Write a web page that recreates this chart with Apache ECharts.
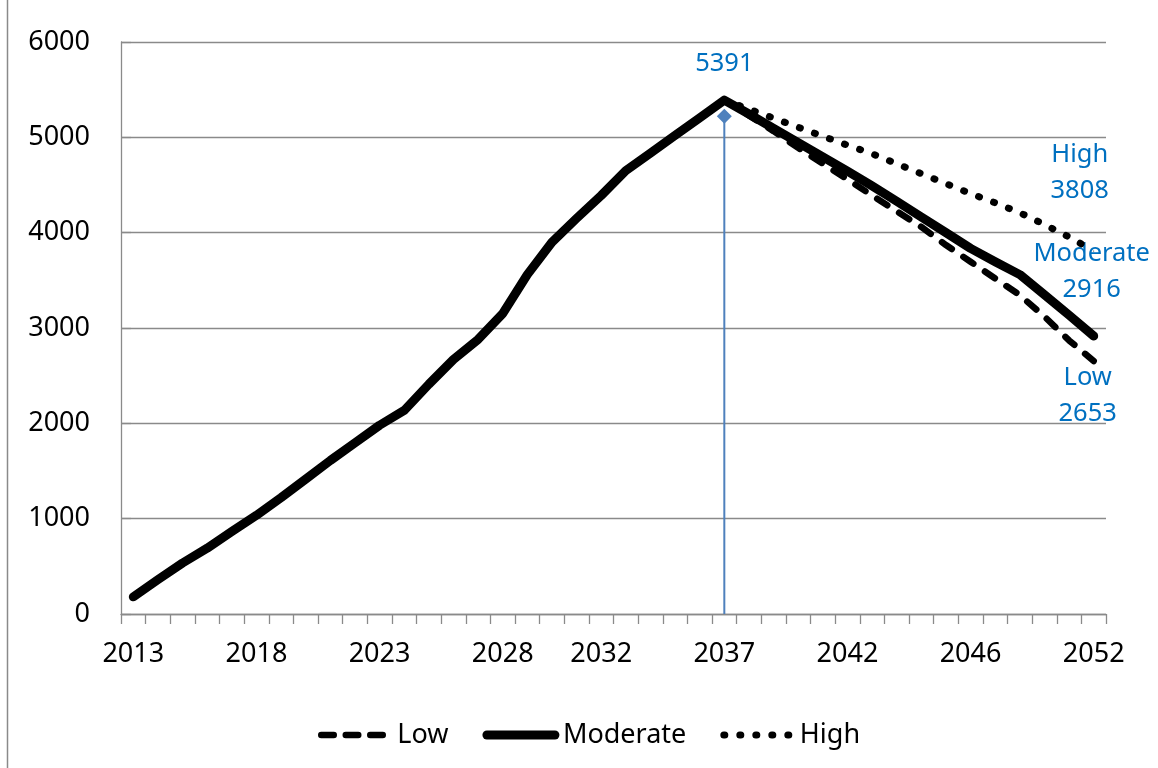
<!DOCTYPE html>
<html>
<head>
<meta charset="utf-8">
<title>Projection 2013–2052</title>
<script src="https://cdn.jsdelivr.net/npm/echarts@6/dist/echarts.min.js"></script>
<style>
  html, body { margin: 0; padding: 0; background: #ffffff; }
  #chart { width: 1158px; height: 768px; }
</style>
</head>
<body>
<div id="chart"></div>
<script>
// Category axis: one slot per year
const years = [
  '2013','2014','2015','2016','2017','2018','2019','2020','2021','2022',
  '2023','2024','2025','2026','2027','2028','2029','2030','2031','2032',
  '2033','2034','2035','2036','2037','2038','2039','2040','2041','2042',
  '2043','2044','2045','2046','2047','2048','2049','2050','2051','2052'
];

// Labels printed under the axis and the slot each one sits on
const xTickLabels = ['2013', '2018', '2023', '2028', '2032', '2037', '2042', '2046', '2052'];
const xTickSlots  = [0, 5, 10, 15, 19, 24, 29, 34, 39];

// Moderate scenario, whole period
const moderate = [
  180, 360, 535, 690, 865, 1035, 1220, 1415, 1610, 1795,
  1980, 2135, 2410, 2670, 2880, 3150, 3560, 3900, 4150, 4390,
  4650, 4835, 5020, 5205, 5391, 5245, 5095, 4945, 4795, 4645,
  4490, 4330, 4165, 4000, 3835, 3695, 3560, 3350, 3135, 2916
];

// Low and High scenarios branch off at the peak year
const projYears = [
  '2037','2038','2039','2040','2041','2042','2043','2044',
  '2045','2046','2047','2048','2049','2050','2051','2052'
];
const low = [
  5391, 5230, 5065, 4890, 4725, 4560, 4390, 4225,
  4060, 3870, 3695, 3520, 3345, 3120, 2870, 2653
];
const high = [
  5391, 5296, 5201, 5106, 5011, 4918, 4828, 4723,
  4618, 4514, 4410, 4313, 4209, 4085, 3955, 3808
];

// Drop line marking the peak year
const peakYear = '2037';
const peakMarkerValue = 5220;

const FONT = 'Noto Sans';
const GRID_GREY = '#8a8a8a';
const NOTE_BLUE = '#0070C0';
const LINE_BLUE = '#4F81BD';

const noteLabel = (offset) => ({
  show: true,
  position: 'inside',
  offset: offset,
  align: 'center',
  verticalAlign: 'middle',
  color: NOTE_BLUE,
  fontFamily: FONT,
  fontSize: 25.5,
  lineHeight: 36
});

// Series name + last value written next to the end of each line
function endNote(value, offset) {
  const label = noteLabel(offset);
  label.formatter = (p) => p.seriesName + '\n' + (Array.isArray(p.value) ? p.value[1] : p.value);
  return { value: value, symbol: 'circle', symbolSize: 1, label: label };
}

const moderateData = moderate.map((v, i) => {
  if (i === 24) {
    const label = noteLabel([0, -36]);
    label.formatter = (p) => String(p.value);
    return { value: v, symbol: 'circle', symbolSize: 1, label: label };
  }
  if (i === moderate.length - 1) return endNote(v, [-2, -64]);
  return v;
});

const lowData = projYears.map((y, k) =>
  k === projYears.length - 1 ? endNote([y, low[k]], [-6, 35]) : [y, low[k]]);
const highData = projYears.map((y, k) =>
  k === projYears.length - 1 ? endNote([y, high[k]], [-14, -78]) : [y, high[k]]);

const LOW_DASH = [12, 14];
const HIGH_DOT = [1, 15];

const chart = echarts.init(document.getElementById('chart'), null, { renderer: 'canvas' });

const hiddenMarker = { opacity: 0 };

chart.setOption({
  animation: false,
  backgroundColor: '#ffffff',
  textStyle: { fontFamily: FONT },
  graphic: [{
    type: 'line',
    shape: { x1: 7.5, y1: 0, x2: 7.5, y2: 768 },
    style: { stroke: GRID_GREY, lineWidth: 1.5 },
    silent: true
  }],
  grid: { left: 121, right: 52, top: 42, bottom: 154 },
  legend: {
    left: 313,
    top: 715,
    itemWidth: 68,
    itemHeight: 14,
    itemGap: 34,
    selectedMode: false,
    textStyle: {
      color: '#000000', fontFamily: FONT, fontSize: 27, lineHeight: 30,
      padding: [0, 0, 0, 3]
    },
    data: [
      { name: 'Low', itemStyle: hiddenMarker,
        lineStyle: { color: '#000', width: 6.5, type: [12.5, 12], cap: 'round' } },
      { name: 'Moderate', itemStyle: hiddenMarker,
        lineStyle: { color: '#000', width: 9, type: 'solid', cap: 'round' } },
      { name: 'High', itemStyle: hiddenMarker,
        lineStyle: { color: '#000', width: 7, type: [1, 15], cap: 'round' } }
    ]
  },
  xAxis: {
    type: 'category',
    data: years,
    boundaryGap: true,
    axisLine: { show: true, lineStyle: { color: GRID_GREY, width: 1.3 } },
    axisTick: {
      show: true, inside: false, length: 10, interval: 0,
      lineStyle: { color: GRID_GREY, width: 1.3 }
    },
    axisLabel: {
      interval: (idx) => xTickSlots.indexOf(idx) !== -1,
      formatter: (val, idx) => {
        const k = xTickSlots.indexOf(idx);
        return k === -1 ? '' : xTickLabels[k];
      },
      margin: 27,
      color: '#000000',
      fontFamily: FONT,
      fontSize: 27
    },
    splitLine: { show: false }
  },
  yAxis: {
    type: 'value',
    min: 0,
    max: 6000,
    interval: 1000,
    axisLine: { show: true, lineStyle: { color: GRID_GREY, width: 1.3 } },
    axisTick: { show: true, inside: true, length: 10, lineStyle: { color: GRID_GREY, width: 1.3 } },
    axisLabel: {
      margin: 31,
      color: '#000000',
      fontFamily: FONT,
      fontSize: 27,
      formatter: (v) => String(v)
    },
    splitLine: { show: true, lineStyle: { color: GRID_GREY, width: 1.3 } }
  },
  series: [
    {
      name: 'Low',
      type: 'line',
      data: lowData,
      symbol: 'none',
      showAllSymbol: true,
      lineStyle: { color: '#000', width: 6.5, type: LOW_DASH, cap: 'round', join: 'round' },
      itemStyle: { color: '#000' },
      z: 2
    },
    {
      name: 'Moderate',
      type: 'line',
      data: moderateData,
      symbol: 'none',
      showAllSymbol: true,
      lineStyle: { color: '#000', width: 9, cap: 'round', join: 'round' },
      itemStyle: { color: '#000' },
      z: 3
    },
    {
      name: 'High',
      type: 'line',
      data: highData,
      symbol: 'none',
      showAllSymbol: true,
      lineStyle: { color: '#000', width: 7, type: HIGH_DOT, cap: 'round', join: 'round' },
      itemStyle: { color: '#000' },
      z: 4
    },
    {
      name: 'Peak',
      type: 'line',
      data: [
        { value: [peakYear, 0], symbol: 'none' },
        { value: [peakYear, peakMarkerValue], symbol: 'diamond', symbolSize: [15, 15] }
      ],
      lineStyle: { color: LINE_BLUE, width: 2 },
      itemStyle: { color: LINE_BLUE },
      z: 1
    }
  ]
});
</script>
</body>
</html>
